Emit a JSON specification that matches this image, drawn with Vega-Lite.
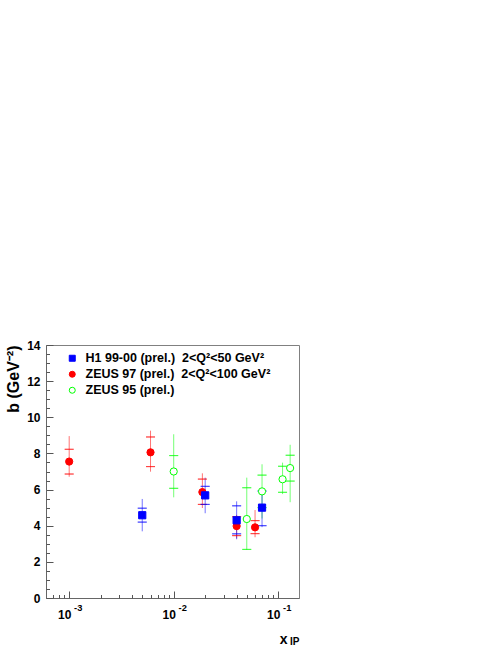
{
  "$schema": "https://vega.github.io/schema/vega-lite/v6.json",
  "autosize": {"type": "none"},
  "padding": {"left": 46, "top": 345, "right": 199, "bottom": 47},
  "width": 253,
  "height": 253,
  "background": "white",
  "config": {
    "view": {"stroke": "#808080", "strokeWidth": 1},
    "axis": {
      "grid": false,
      "domainColor": "#666666",
      "tickColor": "#555555",
      "labelFont": "Liberation Sans",
      "labelFontWeight": "bold",
      "labelFontSize": 12,
      "labelColor": "black",
      "titleFont": "Liberation Sans",
      "titleFontWeight": "bold",
      "titleColor": "black",
      "labelFlush": false
    },
    "legend": {
      "orient": "top-left",
      "offset": 7,
      "padding": 0,
      "labelFont": "Liberation Sans",
      "labelFontSize": 12.5,
      "labelFontWeight": "bold",
      "labelColor": "black",
      "labelLimit": 400,
      "symbolSize": 36,
      "symbolStrokeWidth": 1,
      "symbolOpacity": 1,
      "symbolOffset": 13,
      "labelOffset": 7,
      "rowPadding": 3
    }
  },
  "data": {
    "values": [
      {"series": "ZEUS 95 (prel.)", "xv": 0.01, "b": 7.0, "sLo": 6.07, "sHi": 7.88, "tLo": 5.57, "tHi": 9.06},
      {"series": "ZEUS 95 (prel.)", "xv": 0.05, "b": 4.37, "sLo": 2.69, "sHi": 6.1, "tLo": 2.66, "tHi": 6.66},
      {"series": "ZEUS 95 (prel.)", "xv": 0.07, "b": 5.9, "sLo": 5.0, "sHi": 6.8, "tLo": 4.4, "tHi": 7.4},
      {"series": "ZEUS 95 (prel.)", "xv": 0.11, "b": 6.57, "sLo": 5.85, "sHi": 7.29, "tLo": 5.75, "tHi": 7.49},
      {"series": "ZEUS 95 (prel.)", "xv": 0.13, "b": 7.19, "sLo": 6.47, "sHi": 7.9, "tLo": 5.3, "tHi": 8.48},
      {"series": "ZEUS 97 (prel.)\u00a0 2<Q²<100 GeV²", "xv": 0.001, "b": 7.55, "sLo": 6.86, "sHi": 8.23, "tLo": 6.71, "tHi": 8.96},
      {"series": "ZEUS 97 (prel.)\u00a0 2<Q²<100 GeV²", "xv": 0.006, "b": 8.06, "sLo": 7.27, "sHi": 8.91, "tLo": 6.99, "tHi": 9.26},
      {"series": "ZEUS 97 (prel.)\u00a0 2<Q²<100 GeV²", "xv": 0.0188, "b": 5.86, "sLo": 5.18, "sHi": 6.58, "tLo": 4.98, "tHi": 6.9},
      {"series": "ZEUS 97 (prel.)\u00a0 2<Q²<100 GeV²", "xv": 0.04, "b": 3.98, "sLo": 3.45, "sHi": 4.5, "tLo": 3.3, "tHi": 4.6},
      {"series": "ZEUS 97 (prel.)\u00a0 2<Q²<100 GeV²", "xv": 0.06, "b": 3.91, "sLo": 3.56, "sHi": 4.28, "tLo": 3.36, "tHi": 4.87},
      {"series": "H1 99-00 (prel.)\u00a0 2<Q²<50 GeV²", "xv": 0.005, "b": 4.58, "sLo": 4.2, "sHi": 4.97, "tLo": 3.69, "tHi": 5.48},
      {"series": "H1 99-00 (prel.)\u00a0 2<Q²<50 GeV²", "xv": 0.02, "b": 5.68, "sLo": 5.18, "sHi": 6.18, "tLo": 4.69, "tHi": 6.66},
      {"series": "H1 99-00 (prel.)\u00a0 2<Q²<50 GeV²", "xv": 0.04, "b": 4.3, "sLo": 3.55, "sHi": 5.1, "tLo": 3.25, "tHi": 5.35},
      {"series": "H1 99-00 (prel.)\u00a0 2<Q²<50 GeV²", "xv": 0.07, "b": 5.0, "sLo": 4.0, "sHi": 5.92, "tLo": 3.92, "tHi": 6.02}
    ]
  },
  "resolve": {"axis": {"x": "independent", "y": "independent"}},
  "layer": [
    {
      "mark": {"type": "rule", "strokeWidth": 1, "opacity": 0.55},
      "encoding": {
        "x": {
          "field": "xv", "type": "quantitative",
          "scale": {"type": "log", "domain": [0.0006, 0.158], "nice": false},
          "axis": {
            "orient": "bottom",
            "values": [0.001, 0.01, 0.1],
            "tickSize": -7,
            "labelPadding": 27.7,
            "labelBaseline": "alphabetic",
            "labelAlign": "center",
            "labelOffset": -5,
            "labelExpr": "'10'",
            "title": "x",
            "titleFontSize": 14,
            "titleX": 241,
            "titleY": 45,
            "titleAlign": "right",
            "titleBaseline": "alphabetic"
          }
        },
        "y": {
          "field": "tLo", "type": "quantitative",
          "scale": {"domain": [0, 14], "nice": false},
          "axis": {
            "orient": "left",
            "values": [0, 2, 4, 6, 8, 10, 12, 14],
            "tickSize": -7,
            "labelPadding": 13,
            "labelBaseline": "middle",
            "title": "b (GeV⁻²)",
            "titleFontSize": 16,
            "titleAngle": -90,
            "titleX": -28,
            "titleY": 0,
            "titleAlign": "right",
            "titleBaseline": "alphabetic"
          }
        },
        "y2": {"field": "tHi"},
        "stroke": {"field": "series", "type": "nominal", "title": null}
      }
    },
    {
      "mark": {"type": "tick", "orient": "horizontal", "filled": false, "size": 9, "thickness": 0.001, "strokeWidth": 1, "opacity": 0.55},
      "encoding": {
        "x": {
          "field": "xv", "type": "quantitative",
          "scale": {"type": "log", "domain": [0.0006, 0.158], "nice": false},
          "axis": {
            "orient": "bottom",
            "values": [0.0006, 0.0007, 0.0008, 0.0009, 0.002, 0.003, 0.004, 0.005, 0.006, 0.007, 0.008, 0.009, 0.02, 0.03, 0.04, 0.05, 0.06, 0.07, 0.08, 0.09],
            "tickSize": -3.5,
            "labels": false,
            "domain": false,
            "title": "IP",
            "titleFontSize": 10,
            "titleX": 253,
            "titleY": 46,
            "titleAlign": "right",
            "titleBaseline": "alphabetic"
          }
        },
        "y": {
          "field": "sLo", "type": "quantitative",
          "scale": {"domain": [0, 14], "nice": false},
          "axis": {
            "orient": "left",
            "values": [0.5, 1, 1.5, 2.5, 3, 3.5, 4.5, 5, 5.5, 6.5, 7, 7.5, 8.5, 9, 9.5, 10.5, 11, 11.5, 12.5, 13, 13.5],
            "tickSize": -3.5,
            "labels": false,
            "domain": false,
            "title": null
          }
        },
        "stroke": {"field": "series", "type": "nominal", "title": null}
      }
    },
    {
      "mark": {"type": "tick", "orient": "horizontal", "filled": false, "size": 9, "thickness": 0.001, "strokeWidth": 1, "opacity": 0.55},
      "encoding": {
        "x": {
          "field": "xv", "type": "quantitative",
          "scale": {"type": "log", "domain": [0.0006, 0.158], "nice": false},
          "axis": {
            "orient": "bottom",
            "values": [0.001, 0.01, 0.1],
            "ticks": false,
            "domain": false,
            "labelFontSize": 9.3,
            "labelPadding": 12,
            "labelBaseline": "alphabetic",
            "labelAlign": "center",
            "labelOffset": 8.5,
            "labelExpr": "datum.value < 0.005 ? '-3' : datum.value < 0.05 ? '-2' : '-1'",
            "title": null
          }
        },
        "y": {"field": "sHi", "type": "quantitative", "scale": {"domain": [0, 14], "nice": false}, "axis": null},
        "stroke": {"field": "series", "type": "nominal", "title": null}
      }
    },
    {
      "mark": {"type": "point", "filled": true, "strokeWidth": 1, "size": 52, "opacity": 1},
      "encoding": {
        "x": {"field": "xv", "type": "quantitative", "scale": {"type": "log", "domain": [0.0006, 0.158], "nice": false}, "axis": null},
        "y": {"field": "b", "type": "quantitative", "scale": {"domain": [0, 14], "nice": false}, "axis": null},
        "shape": {
          "field": "series", "type": "nominal", "title": null,
          "scale": {
            "domain": ["H1 99-00 (prel.)\u00a0 2<Q²<50 GeV²", "ZEUS 97 (prel.)\u00a0 2<Q²<100 GeV²", "ZEUS 95 (prel.)"],
            "range": ["square", "circle", "circle"]
          }
        },
        "fill": {
          "field": "series", "type": "nominal", "title": null,
          "scale": {
            "domain": ["H1 99-00 (prel.)\u00a0 2<Q²<50 GeV²", "ZEUS 97 (prel.)\u00a0 2<Q²<100 GeV²", "ZEUS 95 (prel.)"],
            "range": ["#0000ff", "#ff0000", "#ffffff"]
          }
        },
        "stroke": {
          "field": "series", "type": "nominal", "title": null,
          "scale": {
            "domain": ["H1 99-00 (prel.)\u00a0 2<Q²<50 GeV²", "ZEUS 97 (prel.)\u00a0 2<Q²<100 GeV²", "ZEUS 95 (prel.)"],
            "range": ["#0000ff", "#ff0000", "#00ff00"]
          }
        }
      }
    }
  ]
}
